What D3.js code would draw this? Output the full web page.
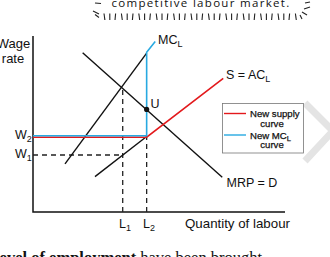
<!DOCTYPE html>
<html>
<head>
<meta charset="utf-8">
<script src="https://cdn.jsdelivr.net/npm/d3@7"></script>
<style>
  body { margin: 0; background: #fff; overflow: hidden; }
  svg text { font-family: "Liberation Sans", Arial, sans-serif; fill: #111; }
</style>
</head>
<body>
<svg width="330" height="257" id="canvas"></svg>
<script>
// ---------- data (quantity 0-100, wage 0-100) ----------
var L1 = 35.6, L2 = 45.1;
var W1 = 32.4, W2 = 42.9;

var mcOld = [[12.7, 27.3], [L2, 90.3]];
var supplyOld = [[24.6, 20.1], [L2, W2]];
var mrp = [[19.7, 90.5], [75.1, 19.7]];
var newSupply = [[0, W2], [L2, W2], [75.5, 76.3]];
var newMC = [[0, W2], [L2, W2], [L2, 90.3], [48.5, 96.4]];
var pointU = [L2, 58.3];
var crossL1 = 70.8;

var legendItems = [
  {label: ["New supply", "curve"], color: "#e3191c"},
  {label: ["New MC", "curve"], sub: "L", color: "#27a9e1"}
];

// ---------- setup ----------
var svg = d3.select("#canvas");

var x = d3.scaleLinear().domain([0, 100]).range([33, 285]);
var y = d3.scaleLinear().domain([0, 100]).range([212, 36]);
var line = d3.line().x(function(d){ return x(d[0]); }).y(function(d){ return y(d[1]); });

// top decoration (cropped speech bubble)
svg.append("text")
  .attr("x", 201)
  .attr("y", 7)
  .attr("text-anchor", "middle")
  .style("font-family", "'Open Sans', sans-serif")
  .style("font-size", "11.5px")
  .style("letter-spacing", "1.3px")
  .text("competitive labour market.");

var deco = svg.append("g").attr("stroke", "#222").attr("stroke-width", 1.1);
for (var i = 0; i < 34; i++) {
  var tx = 104 + i * 5.8;
  var lean = (i % 3 == 0) ? 0.9 : (i % 3 == 1 ? 0 : -0.6);
  deco.append("line")
    .attr("x1", tx).attr("y1", 13.5)
    .attr("x2", tx + lean).attr("y2", 20);
}
deco.append("line").attr("x1", 95).attr("y1", 3).attr("x2", 101).attr("y2", 3.5);
deco.append("line").attr("x1", 93).attr("y1", 11).attr("x2", 99).attr("y2", 14);
deco.append("line").attr("x1", 95).attr("y1", 14.5).attr("x2", 99).attr("y2", 17.5);
deco.append("line").attr("x1", 305).attr("y1", 3).attr("x2", 310).attr("y2", 2);
deco.append("line").attr("x1", 304).attr("y1", 9).attr("x2", 310).attr("y2", 7);
deco.append("line").attr("x1", 302).attr("y1", 12).attr("x2", 307).attr("y2", 15);
deco.append("line").attr("x1", 300).attr("y1", 15).attr("x2", 302).attr("y2", 19);

// grey chevron on the right
svg.append("polyline")
  .attr("points", "305,103 333,131 305,161")
  .attr("fill", "none")
  .attr("stroke", "#e4e4e4")
  .attr("stroke-width", 7);

// axes
svg.append("path")
  .attr("d", "M" + x(0) + "," + y(100) + "V" + y(0) + "H" + x(100))
  .attr("fill", "none")
  .attr("stroke", "#111")
  .attr("stroke-width", 1.5);

// dashed guides
var dash = svg.append("g")
  .attr("stroke", "#222")
  .attr("stroke-width", 1.3)
  .attr("stroke-dasharray", "5,4");
dash.append("path").attr("d", line([[L1, 0], [L1, crossL1]]));
dash.append("path").attr("d", line([[L2, 0], [L2, W2]]));
dash.append("path").attr("d", line([[0, W1], [L1, W1]]));

// black curves
svg.append("path").attr("d", line(mcOld)).attr("fill", "none").attr("stroke", "#111").attr("stroke-width", 1.4);
svg.append("path").attr("d", line(supplyOld)).attr("fill", "none").attr("stroke", "#111").attr("stroke-width", 1.4);
svg.append("path").attr("d", line(mrp)).attr("fill", "none").attr("stroke", "#111").attr("stroke-width", 1.4);

// new curves
svg.append("path")
  .attr("d", line(newSupply))
  .attr("transform", "translate(0,0.7)")
  .attr("fill", "none")
  .attr("stroke", legendItems[0].color)
  .attr("stroke-width", 1.6);
svg.append("path")
  .attr("d", line(newMC))
  .attr("transform", "translate(0,-0.8)")
  .attr("fill", "none")
  .attr("stroke", legendItems[1].color)
  .attr("stroke-width", 1.6);

svg.append("circle")
  .attr("cx", x(pointU[0]))
  .attr("cy", y(pointU[1]))
  .attr("r", 2.6)
  .attr("fill", "#111");

// labels
function label(tx, ty, main, sub, anchor, size) {
  var t = svg.append("text")
    .attr("x", tx)
    .attr("y", ty)
    .attr("text-anchor", anchor || "start")
    .style("font-size", (size || 12.5) + "px")
    .text(main);
  if (sub) {
    t.append("tspan").attr("dy", 3).style("font-size", "9px").text(sub);
  }
  return t;
}

label(13.5, 47.5, "Wage", null, "middle", 13);
label(13, 63, "rate", null, "middle", 13);
label(15, 139, "W", "2");
label(15, 157.5, "W", "1");
label(119, 227.5, "L", "1");
label(143, 227.5, "L", "2");
label(185, 227.5, "Quantity of labour", null, "start", 13.3);
label(158, 44, "MC", "L");
label(226, 78.5, "S = AC", "L");
label(150.5, 107.5, "U");
label(226.5, 187, "MRP = D");

// legend
var lg = svg.append("g");
lg.append("rect")
  .attr("x", 222.5).attr("y", 103.5)
  .attr("width", 81).attr("height", 49.5)
  .attr("fill", "#fff")
  .attr("stroke", "#777")
  .attr("stroke-width", 0.8);

legendItems.forEach(function(d, i){
  var ly = 113.5 + i * 21.5;
  lg.append("line")
    .attr("x1", 224).attr("x2", 246)
    .attr("y1", ly).attr("y2", ly)
    .attr("stroke", d.color)
    .attr("stroke-width", 1.4);
  var t = lg.append("text")
    .attr("x", 250).attr("y", ly + 3.5)
    .style("font-size", "9.6px")
    .style("stroke", "#111")
    .style("stroke-width", 0.25)
    .text(d.label[0]);
  if (d.sub) t.append("tspan").attr("dy", 2).style("font-size", "7.5px").text(d.sub);
  lg.append("text")
    .attr("x", 272).attr("y", ly + 13)
    .attr("text-anchor", "middle")
    .style("font-size", "9.6px")
    .style("stroke", "#111")
    .style("stroke-width", 0.25)
    .text(d.label[1]);
});

// cropped body text at the bottom
var bt = svg.append("text")
  .attr("x", -5)
  .attr("y", 263)
  .style("font-family", "'Liberation Serif', 'Times New Roman', serif")
  .style("font-size", "16.5px");
bt.append("tspan").style("font-weight", "bold").text("level of employment");
bt.append("tspan").text(" have been brought");
</script>
</body>
</html>
